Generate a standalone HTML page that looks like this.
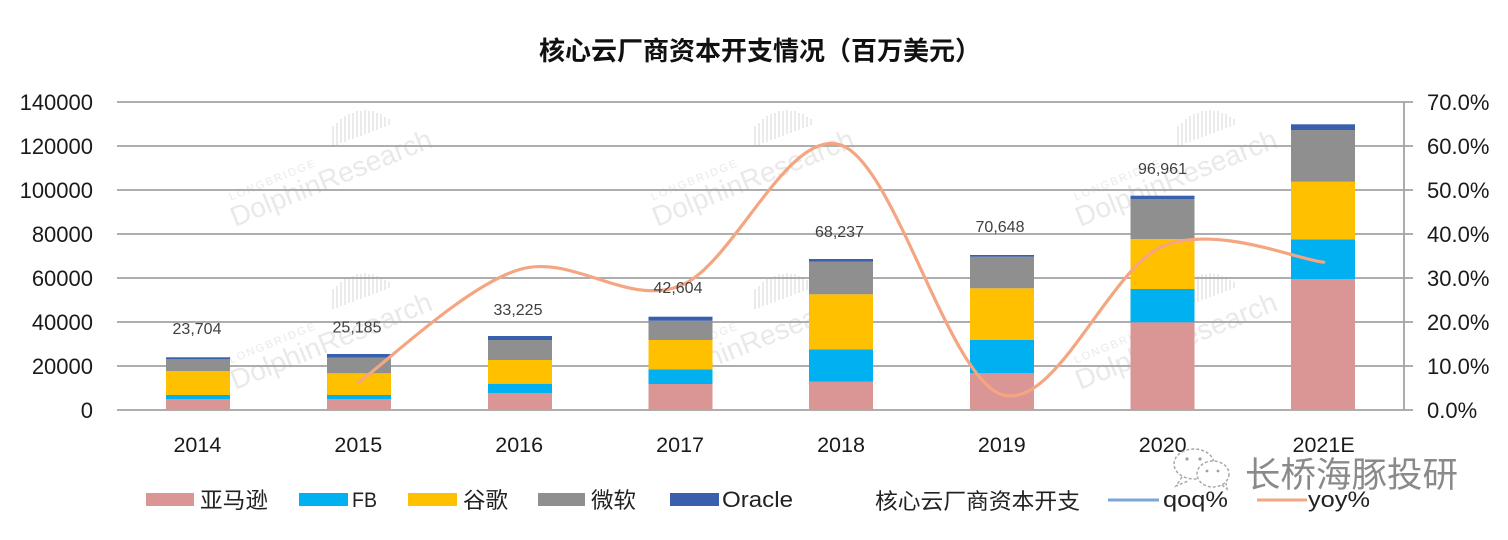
<!DOCTYPE html>
<html>
<head>
<meta charset="utf-8">
<style>
html,body{margin:0;padding:0;background:#fff;}
svg{display:block;}
text{font-family:"Liberation Sans","Noto Sans CJK SC",sans-serif;}
</style>
</head>
<body>
<svg width="1508" height="540" viewBox="0 0 1508 540" xmlns="http://www.w3.org/2000/svg">
<rect width="1508" height="540" fill="#fff"/>

<!-- watermarks -->
<g fill="#e9e9e9" stroke="none">
  <g transform="translate(235,227) rotate(-22)">
    <text x="6" y="-26" font-size="11" letter-spacing="2">LONGBRIDGE</text>
    <text x="0" y="0" font-size="28">DolphinResearch</text>
  </g>
  <g transform="translate(235,390) rotate(-22)">
    <text x="6" y="-26" font-size="11" letter-spacing="2">LONGBRIDGE</text>
    <text x="0" y="0" font-size="28">DolphinResearch</text>
  </g>
  <g transform="translate(657,227) rotate(-22)">
    <text x="6" y="-26" font-size="11" letter-spacing="2">LONGBRIDGE</text>
    <text x="0" y="0" font-size="28">DolphinResearch</text>
  </g>
  <g transform="translate(657,390) rotate(-22)">
    <text x="6" y="-26" font-size="11" letter-spacing="2">LONGBRIDGE</text>
    <text x="0" y="0" font-size="28">DolphinResearch</text>
  </g>
  <g transform="translate(1080,227) rotate(-22)">
    <text x="6" y="-26" font-size="11" letter-spacing="2">LONGBRIDGE</text>
    <text x="0" y="0" font-size="28">DolphinResearch</text>
  </g>
  <g transform="translate(1080,390) rotate(-22)">
    <text x="6" y="-26" font-size="11" letter-spacing="2">LONGBRIDGE</text>
    <text x="0" y="0" font-size="28">DolphinResearch</text>
  </g>
</g>
<g stroke="#e6e6e6" stroke-width="1.6">
  <!-- hatch icons -->
  <path id="h1" d="M333,146 v-20 M337,145 v-22 M341,143 v-24 M345,142 v-26 M349,140 v-26 M353,139 v-26 M357,137 v-26 M361,136 v-25 M365,134 v-24 M369,133 v-22 M373,131 v-20 M377,130 v-17 M381,128 v-14 M385,127 v-10 M389,125 v-6"/>
  <path d="M333,309 v-20 M337,308 v-22 M341,306 v-24 M345,305 v-26 M349,303 v-26 M353,302 v-26 M357,300 v-26 M361,299 v-25 M365,297 v-24 M369,296 v-22 M373,294 v-20 M377,293 v-17 M381,291 v-14 M385,290 v-10 M389,288 v-6"/>
  <path d="M755,146 v-20 M759,145 v-22 M763,143 v-24 M767,142 v-26 M771,140 v-26 M775,139 v-26 M779,137 v-26 M783,136 v-25 M787,134 v-24 M791,133 v-22 M795,131 v-20 M799,130 v-17 M803,128 v-14 M807,127 v-10 M811,125 v-6"/>
  <path d="M755,309 v-20 M759,308 v-22 M763,306 v-24 M767,305 v-26 M771,303 v-26 M775,302 v-26 M779,300 v-26 M783,299 v-25 M787,297 v-24 M791,296 v-22 M795,294 v-20 M799,293 v-17 M803,291 v-14 M807,290 v-10 M811,288 v-6"/>
  <path d="M1178,146 v-20 M1182,145 v-22 M1186,143 v-24 M1190,142 v-26 M1194,140 v-26 M1198,139 v-26 M1202,137 v-26 M1206,136 v-25 M1210,134 v-24 M1214,133 v-22 M1218,131 v-20 M1222,130 v-17 M1226,128 v-14 M1230,127 v-10 M1234,125 v-6"/>
  <path d="M1178,309 v-20 M1182,308 v-22 M1186,306 v-24 M1190,305 v-26 M1194,303 v-26 M1198,302 v-26 M1202,300 v-26 M1206,299 v-25 M1210,297 v-24 M1214,296 v-22 M1218,294 v-20 M1222,293 v-17 M1226,291 v-14 M1230,290 v-10 M1234,288 v-6"/>
</g>

<!-- title -->
<text x="760" y="60" text-anchor="middle" font-size="26" font-weight="bold" fill="#111">核心云厂商资本开支情况（百万美元）</text>

<!-- gridlines -->
<g stroke="#a3a3a3" stroke-width="1.8">
  <line x1="117" y1="102" x2="1413" y2="102"/>
  <line x1="117" y1="146" x2="1413" y2="146"/>
  <line x1="117" y1="190" x2="1413" y2="190"/>
  <line x1="117" y1="234" x2="1413" y2="234"/>
  <line x1="117" y1="278" x2="1413" y2="278"/>
  <line x1="117" y1="322" x2="1413" y2="322"/>
  <line x1="117" y1="366" x2="1413" y2="366"/>
  <line x1="117" y1="410" x2="1413" y2="410"/>
  <line x1="1404" y1="102" x2="1404" y2="410"/>
</g>

<!-- left axis labels -->
<g font-size="22" fill="#1a1a1a" text-anchor="end">
  <text x="93" y="110">140000</text>
  <text x="93" y="154">120000</text>
  <text x="93" y="198">100000</text>
  <text x="93" y="242">80000</text>
  <text x="93" y="286">60000</text>
  <text x="93" y="330">40000</text>
  <text x="93" y="374">20000</text>
  <text x="93" y="418">0</text>
</g>
<!-- right axis labels -->
<g font-size="22" fill="#1a1a1a">
  <text x="1427" y="110">70.0%</text>
  <text x="1427" y="154">60.0%</text>
  <text x="1427" y="198">50.0%</text>
  <text x="1427" y="242">40.0%</text>
  <text x="1427" y="286">30.0%</text>
  <text x="1427" y="330">20.0%</text>
  <text x="1427" y="374">10.0%</text>
  <text x="1427" y="418">0.0%</text>
</g>

<!-- bars -->
<g>
  <!-- 2014 -->
  <rect x="166" y="399.3" width="64" height="10.7" fill="#d99694"/>
  <rect x="166" y="395" width="64" height="4.3" fill="#00b0f0"/>
  <rect x="166" y="371" width="64" height="24" fill="#ffc000"/>
  <rect x="166" y="359.3" width="64" height="11.7" fill="#8f8f8f"/>
  <rect x="166" y="357.3" width="64" height="2" fill="#3a5fad"/>
  <!-- 2015 -->
  <rect x="327" y="399.3" width="64" height="10.7" fill="#d99694"/>
  <rect x="327" y="395" width="64" height="4.3" fill="#00b0f0"/>
  <rect x="327" y="373.3" width="64" height="21.7" fill="#ffc000"/>
  <rect x="327" y="357.7" width="64" height="15.6" fill="#8f8f8f"/>
  <rect x="327" y="354" width="64" height="3.7" fill="#3a5fad"/>
  <!-- 2016 -->
  <rect x="488" y="393.3" width="64" height="16.7" fill="#d99694"/>
  <rect x="488" y="383.7" width="64" height="9.6" fill="#00b0f0"/>
  <rect x="488" y="360" width="64" height="23.7" fill="#ffc000"/>
  <rect x="488" y="340" width="64" height="20" fill="#8f8f8f"/>
  <rect x="488" y="336" width="64" height="4" fill="#3a5fad"/>
  <!-- 2017 -->
  <rect x="648.5" y="384" width="64" height="26" fill="#d99694"/>
  <rect x="648.5" y="369.3" width="64" height="14.7" fill="#00b0f0"/>
  <rect x="648.5" y="340" width="64" height="29.3" fill="#ffc000"/>
  <rect x="648.5" y="320.7" width="64" height="19.3" fill="#8f8f8f"/>
  <rect x="648.5" y="316.7" width="64" height="4" fill="#3a5fad"/>
  <!-- 2018 -->
  <rect x="809" y="381.7" width="64" height="28.3" fill="#d99694"/>
  <rect x="809" y="349.3" width="64" height="32.4" fill="#00b0f0"/>
  <rect x="809" y="294.3" width="64" height="55" fill="#ffc000"/>
  <rect x="809" y="261.7" width="64" height="32.6" fill="#8f8f8f"/>
  <rect x="809" y="259" width="64" height="2.7" fill="#3a5fad"/>
  <!-- 2019 -->
  <rect x="970" y="373.3" width="64" height="36.7" fill="#d99694"/>
  <rect x="970" y="340" width="64" height="33.3" fill="#00b0f0"/>
  <rect x="970" y="288.3" width="64" height="51.7" fill="#ffc000"/>
  <rect x="970" y="256.7" width="64" height="31.6" fill="#8f8f8f"/>
  <rect x="970" y="255" width="64" height="1.7" fill="#3a5fad"/>
  <!-- 2020 -->
  <rect x="1130.5" y="322.3" width="64" height="87.7" fill="#d99694"/>
  <rect x="1130.5" y="289" width="64" height="33.3" fill="#00b0f0"/>
  <rect x="1130.5" y="239" width="64" height="50" fill="#ffc000"/>
  <rect x="1130.5" y="199" width="64" height="40" fill="#8f8f8f"/>
  <rect x="1130.5" y="195.7" width="64" height="3.3" fill="#3a5fad"/>
  <!-- 2021E -->
  <rect x="1291" y="279" width="64" height="131" fill="#d99694"/>
  <rect x="1291" y="239.3" width="64" height="39.7" fill="#00b0f0"/>
  <rect x="1291" y="181.7" width="64" height="57.6" fill="#ffc000"/>
  <rect x="1291" y="130" width="64" height="51.7" fill="#8f8f8f"/>
  <rect x="1291" y="124.3" width="64" height="5.7" fill="#3a5fad"/>
</g>

<!-- yoy line -->
<path d="M358.3,382.5 C385.1,363.7 465.6,285.7 519.2,269.6 C572.8,253.5 626.5,306.65 680.1,285.9 C733.7,265.15 787.4,127.0 841.0,145.1 C894.6,163.2 948.3,377.7 1001.9,394.6 C1055.5,411.5 1109.2,268.4 1162.8,246.3 C1216.4,224.2 1296.9,259.55 1323.7,262.2" fill="none" stroke="#f4a582" stroke-width="3.2" stroke-linecap="round"/>

<!-- data labels -->
<g font-size="16" fill="#404040" text-anchor="middle">
  <text x="197" y="334">23,704</text>
  <text x="357" y="332.5">25,185</text>
  <text x="518" y="315">33,225</text>
  <text x="678" y="293">42,604</text>
  <text x="839.5" y="237">68,237</text>
  <text x="1000" y="232">70,648</text>
  <text x="1162.5" y="174">96,961</text>
</g>

<!-- x labels -->
<g font-size="21.5" fill="#1a1a1a" text-anchor="middle">
  <text x="197.4" y="452">2014</text>
  <text x="358.3" y="452">2015</text>
  <text x="519.2" y="452">2016</text>
  <text x="680.1" y="452">2017</text>
  <text x="841" y="452">2018</text>
  <text x="1001.8" y="452">2019</text>
  <text x="1162.7" y="452">2020</text>
  <text x="1323.6" y="452">2021E</text>
</g>

<!-- WeChat watermark -->
<g fill="#fff" stroke="#a8a8a8" stroke-width="1.5" stroke-dasharray="3 2">
  <ellipse cx="1194" cy="464" rx="20" ry="15"/>
  <path d="M1182,477 l-6,9 l12,-5" fill="none"/>
  <ellipse cx="1213" cy="474" rx="16" ry="13"/>
  <path d="M1222,485 l5,4 l-1,-6" fill="none"/>
</g>
<g fill="#a0a0a0">
  <circle cx="1187" cy="459" r="1.6"/>
  <circle cx="1200" cy="459" r="1.6"/>
  <circle cx="1207" cy="471" r="1.4"/>
  <circle cx="1218" cy="471" r="1.4"/>
</g>
<text x="1245" y="487" font-size="35" fill="#8a8a8a" textLength="213" lengthAdjust="spacingAndGlyphs">长桥海豚投研</text>

<!-- legend -->
<g>
  <rect x="146" y="493" width="48" height="13" fill="#d99694"/>
  <text x="200" y="508" font-size="22" fill="#222" textLength="68" lengthAdjust="spacingAndGlyphs">亚马逊</text>
  <rect x="299" y="493" width="49" height="13" fill="#00b0f0"/>
  <text x="352" y="507" font-size="21" fill="#222" textLength="25" lengthAdjust="spacingAndGlyphs">FB</text>
  <rect x="408" y="493" width="49" height="13" fill="#ffc000"/>
  <text x="463" y="508" font-size="22" fill="#222" textLength="45" lengthAdjust="spacingAndGlyphs">谷歌</text>
  <rect x="538" y="493" width="47" height="13" fill="#8f8f8f"/>
  <text x="591" y="508" font-size="22" fill="#222" textLength="45" lengthAdjust="spacingAndGlyphs">微软</text>
  <rect x="670" y="493" width="49" height="13" fill="#3a5fad"/>
  <text x="722" y="507" font-size="22" fill="#222" textLength="71" lengthAdjust="spacingAndGlyphs">Oracle</text>
  <text x="875" y="509" font-size="22" fill="#222" textLength="205" lengthAdjust="spacingAndGlyphs">核心云厂商资本开支</text>
  <line x1="1108" y1="500" x2="1159" y2="500" stroke="#7ba6d8" stroke-width="3"/>
  <text x="1163" y="507" font-size="22" fill="#222" textLength="65" lengthAdjust="spacingAndGlyphs">qoq%</text>
  <line x1="1257" y1="500" x2="1307" y2="500" stroke="#f4a582" stroke-width="3"/>
  <text x="1308" y="507" font-size="22" fill="#222" textLength="62" lengthAdjust="spacingAndGlyphs">yoy%</text>
</g>
</svg>
</body>
</html>
